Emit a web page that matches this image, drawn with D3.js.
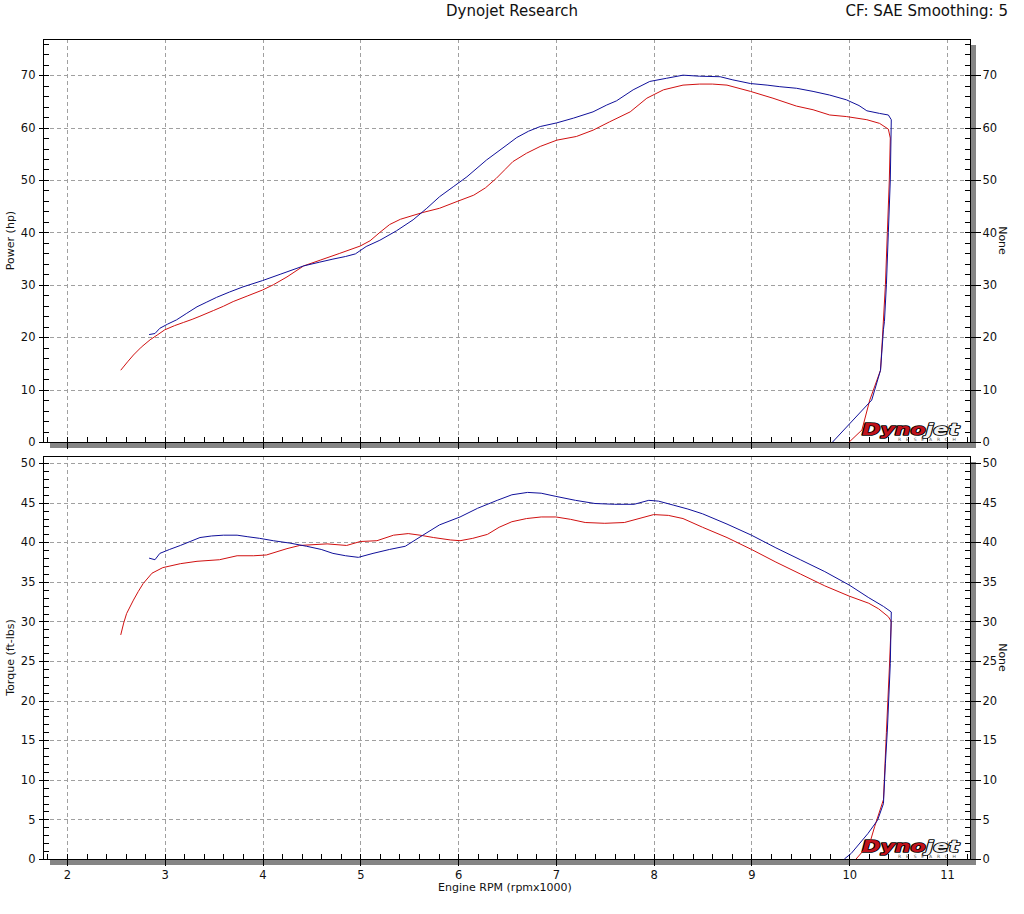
<!DOCTYPE html>
<html><head><meta charset="utf-8">
<script src="https://cdn.jsdelivr.net/npm/d3@7/dist/d3.min.js"></script>
<style>body{margin:0;background:#fff} svg{display:block;background:#fff}</style>
</head><body><svg id="c" width="1024" height="914"></svg>
<script>
// ---------- tick labels ----------
const rpmTicks = [2,3,4,5,6,7,8,9,10,11];
const powerTicks = [0,10,20,30,40,50,60,70];
const torqueTicks = [0,5,10,15,20,25,30,35,40,45,50];

// ---------- Run 1 (red) power ----------
const redPowerRpm = [2.55,2.62,2.68,2.76,2.85,2.93,3.00,3.10,3.19,3.28,3.36,3.50,3.60,3.70,3.85,4.00,4.11,4.25,4.42,4.59,4.79,5.00,5.10,5.20,5.30,5.41,5.64,5.81,5.99,6.16,6.28,6.39,6.48,6.56,6.70,6.84,7.01,7.21,7.38,7.55,7.76,7.93,8.10,8.30,8.47,8.60,8.75,8.99,9.22,9.46,9.63,9.80,9.97,10.18,10.31,10.40,10.42,10.41,10.39,10.37,10.34,10.32,10.21,10.13,10.00];
const redPowerHp  = [13.7,15.3,16.6,18.1,19.5,20.5,21.4,22.2,22.8,23.4,24.0,25.1,25.9,26.8,27.9,29.0,30.0,31.5,33.6,34.7,36.0,37.4,38.4,40.0,41.5,42.5,43.8,44.6,45.9,47.1,48.5,50.3,52.0,53.5,55.1,56.4,57.6,58.3,59.5,61.1,63.0,65.6,67.2,68.1,68.3,68.3,68.1,66.9,65.6,64.1,63.4,62.4,62.1,61.5,60.8,59.7,58.0,50.0,40.0,30.0,20.0,13.7,8.0,2.3,0];

// ---------- Run 2 (blue) power ----------
const bluePowerRpm = [2.84,2.90,2.95,3.03,3.12,3.22,3.33,3.43,3.53,3.66,3.80,4.00,4.18,4.42,4.58,4.72,4.85,4.95,5.06,5.20,5.37,5.54,5.68,5.81,5.95,6.09,6.29,6.50,6.60,6.72,6.84,7.01,7.18,7.38,7.52,7.62,7.79,7.96,8.13,8.30,8.47,8.68,8.81,8.99,9.16,9.29,9.46,9.63,9.80,9.97,10.10,10.18,10.31,10.40,10.43,10.42,10.40,10.38,10.36,10.35,10.32,10.23,9.83];
const bluePowerHp  = [20.5,20.7,21.7,22.5,23.3,24.5,25.8,26.7,27.6,28.6,29.6,30.8,32.0,33.6,34.3,34.9,35.4,35.9,37.3,38.5,40.3,42.4,44.6,46.8,48.7,50.6,53.8,56.7,58.1,59.3,60.2,60.9,61.8,63.0,64.3,65.1,67.2,68.8,69.4,70.0,69.8,69.7,69.1,68.4,68.1,67.8,67.5,66.9,66.2,65.3,64.2,63.2,62.7,62.4,61.5,50.0,40.0,30.0,23.0,21.5,13.7,8.0,0];

// ---------- Run 1 (red) torque ----------
const redTorqueRpm = [2.55,2.58,2.61,2.68,2.73,2.78,2.87,2.98,3.16,3.33,3.56,3.74,3.91,4.04,4.25,4.38,4.66,4.86,5.00,5.17,5.34,5.49,5.61,5.75,5.92,6.02,6.15,6.30,6.42,6.55,6.70,6.85,7.00,7.15,7.30,7.50,7.70,7.85,8.00,8.15,8.30,8.50,8.75,9.00,9.25,9.50,9.75,10.00,10.20,10.30,10.40,10.43,10.41,10.38,10.35,10.26,10.21,10.07];
const redTorque    = [28.3,29.8,31.0,32.7,33.8,34.8,36.1,36.8,37.3,37.6,37.8,38.3,38.3,38.4,39.2,39.6,39.8,39.6,40.1,40.2,40.9,41.1,40.9,40.6,40.3,40.2,40.5,41.0,41.9,42.6,43.0,43.2,43.2,42.9,42.5,42.4,42.5,43.0,43.5,43.4,43.0,41.9,40.6,39.1,37.5,36.0,34.5,33.2,32.3,31.6,30.6,30.0,24.0,16.0,7.5,4.1,2.0,0];

// ---------- Run 2 (blue) torque ----------
const blueTorqueRpm = [2.84,2.90,2.95,3.05,3.16,3.26,3.36,3.48,3.60,3.74,3.85,3.97,4.11,4.28,4.45,4.60,4.72,4.85,4.98,5.13,5.30,5.46,5.64,5.81,6.02,6.20,6.40,6.55,6.71,6.85,7.00,7.20,7.40,7.60,7.80,7.95,8.05,8.20,8.35,8.50,8.75,9.00,9.25,9.50,9.75,10.00,10.20,10.35,10.43,10.42,10.39,10.37,10.35,10.29,10.19,10.02,9.95];
const blueTorque    = [38.0,37.8,38.6,39.1,39.6,40.1,40.6,40.8,40.9,40.9,40.7,40.5,40.2,39.9,39.5,39.1,38.6,38.3,38.1,38.6,39.1,39.5,40.9,42.2,43.2,44.3,45.3,46.0,46.3,46.2,45.8,45.3,44.9,44.8,44.8,45.3,45.2,44.7,44.2,43.6,42.3,40.9,39.3,37.8,36.3,34.6,33.0,31.9,31.2,24.7,16.3,12.1,7.0,4.9,3.2,0.7,0];

const FONT = "'DejaVu Sans', Verdana, sans-serif";
const svg = d3.select('#c');
const x = d3.scaleLinear().domain([1.755, 11.235]).range([43, 970]);
const yP = d3.scaleLinear().domain([0, 76.9]).range([442, 39]);
const yT = d3.scaleLinear().domain([0, 50.9]).range([859, 456]);

function zip(a, b){ return a.map((v,i)=>[v,b[i]]); }

function styleAxis(g, fs){
  g.select('.domain').remove();
  g.selectAll('line').attr('stroke','#000').attr('shape-rendering','crispEdges');
  g.selectAll('text').attr('font-family',FONT).attr('font-size',fs).attr('fill','#111');
}

function panel(y, majors, minorStep, red, blue, label, showXLabels){
  const [bottom, top] = y.range();
  const L = x.range()[0], R = x.range()[1];
  const g = svg.append('g');
  // shadows
  g.append('rect').attr('x',R).attr('y',top+6).attr('width',6).attr('height',bottom-top).attr('fill','#858585');
  g.append('rect').attr('x',L+7).attr('y',bottom).attr('width',R-L-1).attr('height',6).attr('fill','#858585');
  // grid
  const grid = g.append('g').attr('stroke','#a0a0a0').attr('stroke-dasharray','4,3').attr('shape-rendering','crispEdges');
  grid.selectAll('line.v').data(rpmTicks).join('line')
    .attr('x1',d=>Math.round(x(d))+0.5).attr('x2',d=>Math.round(x(d))+0.5)
    .attr('y1',top).attr('y2',bottom);
  grid.selectAll('line.h').data(majors.filter(d=>d>0)).join('line')
    .attr('x1',L).attr('x2',R)
    .attr('y1',d=>Math.round(y(d))+0.5).attr('y2',d=>Math.round(y(d))+0.5);
  // frame
  g.append('rect').attr('x',L+0.5).attr('y',top+0.5).attr('width',R-L).attr('height',bottom-top)
    .attr('fill','none').attr('stroke','#000').attr('shape-rendering','crispEdges');
  // left axis
  const yMax = y.domain()[1];
  const minors = d3.range(0, yMax, minorStep);
  const la = g.append('g').attr('transform',`translate(${L+0.5},0)`)
    .call(d3.axisLeft(y).tickValues(majors).tickSize(5).tickSizeOuter(0).tickPadding(3));
  styleAxis(la, 11.5);
  const lm = g.append('g').attr('transform',`translate(${L+0.5},0)`)
    .call(d3.axisRight(y).tickValues(minors).tickSize(5).tickSizeOuter(0).tickFormat(''));
  styleAxis(lm, 11);
  // right axis
  const ra = g.append('g').attr('transform',`translate(${R+0.5},0)`)
    .call(d3.axisRight(y).tickValues(majors).tickSize(10).tickSizeOuter(0).tickPadding(2));
  styleAxis(ra, 11.5);
  const rm = g.append('g').attr('transform',`translate(${R+0.5},0)`)
    .call(d3.axisLeft(y).tickValues(minors).tickSize(6).tickSizeOuter(0).tickFormat(''));
  styleAxis(rm, 11);
  // x axis
  const xMinor = d3.range(1.8, 11.21, 0.2);
  const xm = g.append('g').attr('transform',`translate(0,${bottom+0.5})`)
    .call(d3.axisTop(x).tickValues(xMinor).tickSize(6).tickSizeOuter(0).tickFormat(''));
  styleAxis(xm, 11);
  const xa = g.append('g').attr('transform',`translate(0,${bottom+0.5})`)
    .call(d3.axisBottom(x).tickValues(rpmTicks).tickSize(showXLabels?6:6).tickSizeOuter(0).tickPadding(5)
      .tickFormat(showXLabels ? d3.format('d') : ''));
  styleAxis(xa, 11.5);
  // axis titles
  g.append('text').attr('transform',`translate(14,${(top+bottom)/2}) rotate(-90)`)
    .attr('text-anchor','middle').attr('font-family',FONT).attr('font-size',11).attr('fill','#111').text(label);
  g.append('text').attr('transform',`translate(999,${(top+bottom)/2}) rotate(90)`)
    .attr('text-anchor','middle').attr('font-family',FONT).attr('font-size',11).attr('fill','#111').text('None');
  // logo
  const logo = g.append('g').attr('transform',`translate(862,${bottom-7})`);
  const t = logo.append('text').attr('font-family',FONT).attr('font-weight','bold').attr('font-style','italic')
    .attr('font-size',15).attr('textLength',97).attr('lengthAdjust','spacingAndGlyphs')
    .attr('stroke','#000').attr('stroke-width',1.6).attr('paint-order','stroke').attr('stroke-linejoin','round');
  t.append('tspan').attr('fill','#c0121b').text('Dyno');
  t.append('tspan').attr('fill','#f2f2f2').text('jet');
  logo.append('text').attr('x',36).attr('y',6).attr('font-family',FONT).attr('font-size',4.5)
    .attr('fill','#555').attr('textLength',58).attr('lengthAdjust','spacing').text('RESEARCH');
  // curves
  const line = d3.line().x(d=>x(d[0])).y(d=>y(d[1]));
  g.append('path').datum(red).attr('d',line).attr('fill','none').attr('stroke','#d01010').attr('stroke-width',1);
  g.append('path').datum(blue).attr('d',line).attr('fill','none').attr('stroke','#10109a').attr('stroke-width',1);
}

panel(yP, powerTicks, 2, zip(redPowerRpm, redPowerHp), zip(bluePowerRpm, bluePowerHp), 'Power (hp)', false);
panel(yT, torqueTicks, 1, zip(redTorqueRpm, redTorque), zip(blueTorqueRpm, blueTorque), 'Torque (ft-lbs)', true);

// titles
svg.append('text').attr('x',512).attr('y',16).attr('text-anchor','middle')
  .attr('font-family',FONT).attr('font-size',15).attr('fill','#111').text('Dynojet Research');
svg.append('text').attr('x',1008).attr('y',16).attr('text-anchor','end')
  .attr('font-family',FONT).attr('font-size',15).attr('fill','#111').text('CF: SAE Smoothing: 5');
svg.append('text').attr('x',505).attr('y',891).attr('text-anchor','middle')
  .attr('font-family',FONT).attr('font-size',11).attr('fill','#111').text('Engine RPM (rpmx1000)');
</script></body></html>
